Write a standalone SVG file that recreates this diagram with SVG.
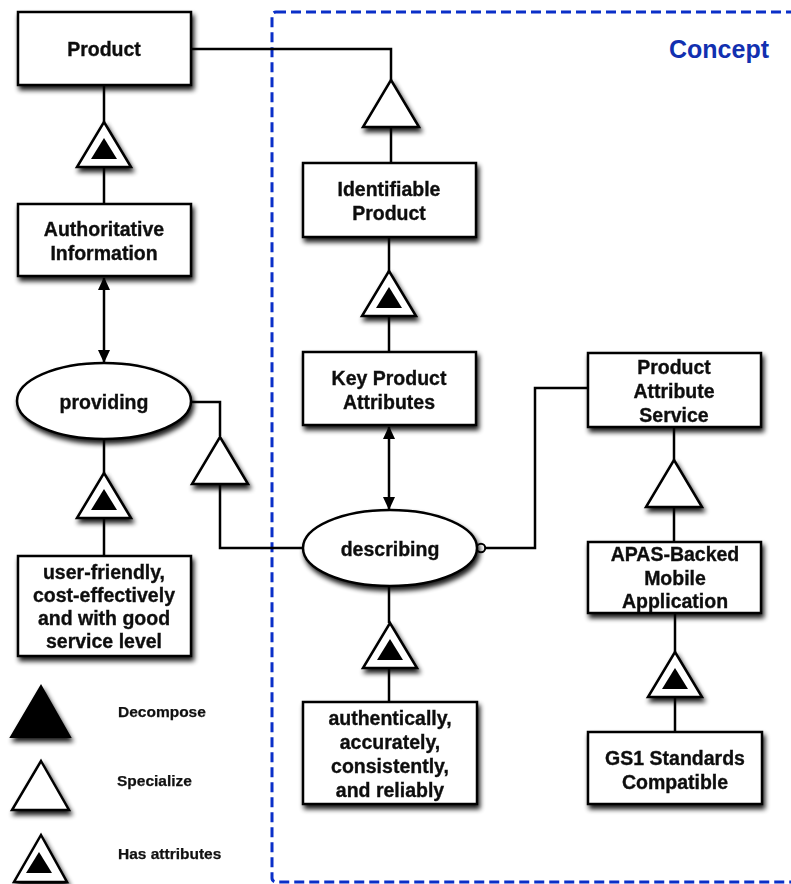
<svg xmlns="http://www.w3.org/2000/svg" width="791" height="884" viewBox="0 0 791 884">
  <defs>
    <filter id="shadow" x="-20%" y="-20%" width="140%" height="150%">
      <feGaussianBlur in="SourceAlpha" stdDeviation="2.4"/>
      <feOffset dx="2" dy="4" result="b"/>
      <feComponentTransfer><feFuncA type="linear" slope="0.9"/></feComponentTransfer>
      <feMerge><feMergeNode/><feMergeNode in="SourceGraphic"/></feMerge>
    </filter>
    <marker id="arrow" viewBox="0 0 13 14" refX="12" refY="7" markerWidth="13" markerHeight="14" markerUnits="userSpaceOnUse" orient="auto-start-reverse">
      <path d="M0,1 L13,7 L0,13 z" fill="#000"/>
    </marker>
    <!-- specialize: hollow triangle -->
    <g id="spec">
      <polygon points="0,0 28,47 -28,47" fill="#fff" stroke="#000" stroke-width="2.5" stroke-linejoin="miter"/>
    </g>
    <!-- has attributes: hollow triangle with a filled core -->
    <g id="attr">
      <polygon points="0,0 27,45 -27,45" fill="#fff" stroke="#000" stroke-width="2.5"/>
      <polygon points="0,16 13,37 -13,37" fill="#000"/>
    </g>
  </defs>
  <style>
    .box { fill: #fff; stroke: #000; stroke-width: 2.5; }
    .lbl { font-family: "Liberation Sans", Arial, sans-serif; font-weight: bold; font-size: 19.5px; fill: #111; stroke: #111; stroke-width: 0.35; text-anchor: middle; }
    .leg { font-family: "Liberation Sans", Arial, sans-serif; font-weight: bold; font-size: 15.5px; fill: #111; stroke: #111; stroke-width: 0.25; }
    .wire { fill: none; stroke: #000; stroke-width: 2.5; }
    .zone { fill: none; stroke: #0a2fc8; stroke-width: 3; stroke-dasharray: 10 5; }
  </style>
  <rect width="791" height="884" fill="#fff"/>

  <!-- concept boundary -->
  <g id="concept-zone">
    <rect class="zone" x="272" y="12" width="530" height="870" rx="4"/>
    <text x="719" y="58" font-family="Liberation Sans, Arial, sans-serif" font-weight="bold" font-size="25" fill="#1230b0" text-anchor="middle">Concept</text>
  </g>

  <!-- connectors -->
  <g id="connectors">
    <polyline class="wire" points="191,49 391,49 391,80"/>
    <line class="wire" x1="391" y1="127" x2="391" y2="163"/>
    <line class="wire" x1="104" y1="85" x2="104" y2="122"/>
    <line class="wire" x1="104" y1="167" x2="104" y2="204"/>
    <line class="wire" x1="389" y1="237" x2="389" y2="272"/>
    <line class="wire" x1="389" y1="316" x2="389" y2="352"/>
    <line class="wire" x1="104" y1="278" x2="104" y2="362" marker-start="url(#arrow)" marker-end="url(#arrow)"/>
    <line class="wire" x1="389" y1="427" x2="389" y2="509" marker-start="url(#arrow)" marker-end="url(#arrow)"/>
    <polyline class="wire" points="190,402 220,402 220,436"/>
    <polyline class="wire" points="220,484 220,548 303,548"/>
    <line class="wire" x1="104" y1="438" x2="104" y2="473"/>
    <line class="wire" x1="104" y1="518" x2="104" y2="556"/>
    <polyline class="wire" points="485,548 535,548 535,388 588,388"/>
    <circle cx="481" cy="548" r="4.2" fill="#fff" stroke="#000" stroke-width="2"/>
    <line class="wire" x1="674" y1="427" x2="674" y2="460"/>
    <line class="wire" x1="674" y1="507" x2="674" y2="542"/>
    <line class="wire" x1="675" y1="613" x2="675" y2="652"/>
    <line class="wire" x1="675" y1="697" x2="675" y2="732"/>
    <line class="wire" x1="389" y1="586" x2="389" y2="623"/>
    <line class="wire" x1="389" y1="668" x2="389" y2="702"/>
  </g>

  <!-- relation triangles -->
  <g id="triangles" filter="url(#shadow)">
    <use href="#attr" x="104" y="122"/>
    <use href="#spec" x="391" y="80"/>
    <use href="#attr" x="389" y="271"/>
    <use href="#spec" x="220" y="437"/>
    <use href="#attr" x="104" y="473"/>
    <use href="#spec" x="674" y="460"/>
    <use href="#attr" x="675" y="652"/>
    <use href="#attr" x="390" y="623"/>
  </g>

  <g id="product" filter="url(#shadow)">
    <rect class="box" x="18" y="12" width="173" height="73"/>
    <text class="lbl" x="104" y="56">Product</text>
  </g>
  <g id="authoritative-information" filter="url(#shadow)">
    <rect class="box" x="18" y="204" width="173" height="72"/>
    <text class="lbl" x="104" y="236">Authoritative</text>
    <text class="lbl" x="104" y="260">Information</text>
  </g>
  <g id="providing" filter="url(#shadow)">
    <ellipse class="box" cx="104" cy="401" rx="87" ry="38"/>
    <text class="lbl" x="104" y="409">providing</text>
  </g>
  <g id="user-friendly" filter="url(#shadow)">
    <rect class="box" x="18" y="556" width="173" height="100"/>
    <text class="lbl" x="104" y="579">user-friendly,</text>
    <text class="lbl" x="104" y="602">cost-effectively</text>
    <text class="lbl" x="104" y="625">and with good</text>
    <text class="lbl" x="104" y="648">service level</text>
  </g>
  <g id="identifiable-product" filter="url(#shadow)">
    <rect class="box" x="303" y="163" width="173" height="74"/>
    <text class="lbl" x="389" y="196">Identifiable</text>
    <text class="lbl" x="389" y="220">Product</text>
  </g>
  <g id="key-product-attributes" filter="url(#shadow)">
    <rect class="box" x="303" y="352" width="173" height="73"/>
    <text class="lbl" x="389" y="385">Key Product</text>
    <text class="lbl" x="389" y="409">Attributes</text>
  </g>
  <g id="describing" filter="url(#shadow)">
    <ellipse class="box" cx="390" cy="548" rx="87" ry="38"/>
    <text class="lbl" x="390" y="556">describing</text>
  </g>
  <g id="authentically" filter="url(#shadow)">
    <rect class="box" x="303" y="702" width="174" height="102"/>
    <text class="lbl" x="390" y="725">authentically,</text>
    <text class="lbl" x="390" y="749">accurately,</text>
    <text class="lbl" x="390" y="773">consistently,</text>
    <text class="lbl" x="390" y="797">and reliably</text>
  </g>
  <g id="product-attribute-service" filter="url(#shadow)">
    <rect class="box" x="588" y="353" width="173" height="74"/>
    <text class="lbl" x="674" y="374">Product</text>
    <text class="lbl" x="674" y="398">Attribute</text>
    <text class="lbl" x="674" y="422">Service</text>
  </g>
  <g id="apas-mobile-app" filter="url(#shadow)">
    <rect class="box" x="588" y="542" width="173" height="71"/>
    <text class="lbl" x="675" y="561">APAS-Backed</text>
    <text class="lbl" x="675" y="585">Mobile</text>
    <text class="lbl" x="675" y="608">Application</text>
  </g>
  <g id="gs1-compatible" filter="url(#shadow)">
    <rect class="box" x="588" y="732" width="174" height="72"/>
    <text class="lbl" x="675" y="765">GS1 Standards</text>
    <text class="lbl" x="675" y="789">Compatible</text>
  </g>

  <!-- legend -->
  <g id="legend">
    <g filter="url(#shadow)">
      <polygon points="41,686 70,737 11,737" fill="#000" stroke="#000" stroke-width="2"/>
      <polygon points="41,761 69,810 12,810" fill="#fff" stroke="#000" stroke-width="2.5"/>
      <polygon points="41,835 67,882 14,882" fill="#fff" stroke="#000" stroke-width="2.5"/>
      <polygon points="39,852 52,873 26,873" fill="#000"/>
    </g>
    <text class="leg" x="118" y="717">Decompose</text>
    <text class="leg" x="117" y="786">Specialize</text>
    <text class="leg" x="118" y="859">Has attributes</text>
  </g>
</svg>
